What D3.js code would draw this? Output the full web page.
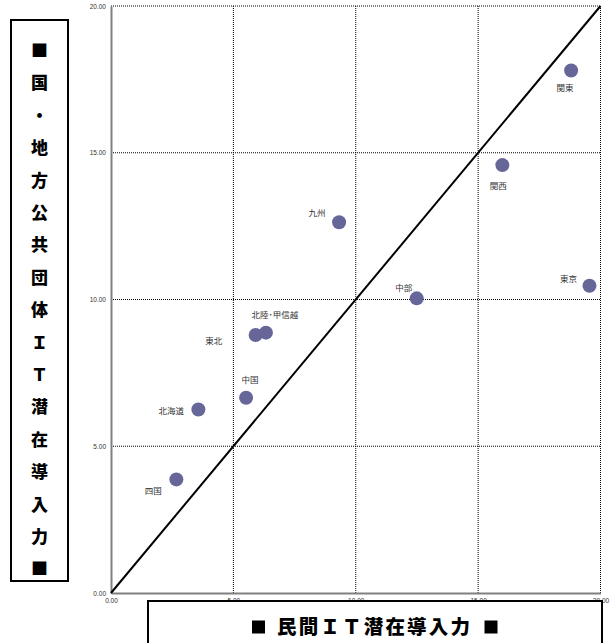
<!DOCTYPE html>
<html>
<head>
<meta charset="utf-8">
<script src="https://cdn.jsdelivr.net/npm/d3@7"></script>
<style>
  html, body { margin: 0; padding: 0; background: #ffffff; }
  svg { display: block; font-family: "Noto Sans CJK JP", "Noto Sans", sans-serif; }
</style>
</head>
<body>
<div id="chart"></div>
<script>
// regions and their two scores (x: private sector, y: government)
const regions = ['関東', '関西', '東京', '九州', '中部', '東北', '北陸･甲信越', '中国', '北海道', '四国'];
const privateScore = [18.80, 15.99, 19.55, 9.32, 12.49, 5.91, 6.33, 5.52, 3.57, 2.67];
const publicScore = [17.80, 14.58, 10.47, 12.63, 10.04, 8.79, 8.87, 6.65, 6.25, 3.87];
const tickValues = [0, 5, 10, 15, 20];
const xTitle = '民間ＩＴ潜在導入力';
const yTitle = ['■', '国', '・', '地', '方', '公', '共', '団', '体', 'Ｉ', 'Ｔ', '潜', '在', '導', '入', '力', '■'];

// label placement relative to each marker (layout, not data)
const labelOffset = {
    '関東': [-6, 17], '関西': [-4, 21], '東京': [-21, -7], '九州': [-22, -9],
    '中部': [-13, -10], '東北': [-42, 6], '北陸･甲信越': [9, -18], '中国': [4, -18],
    '北海道': [-27, 1], '四国': [-23, 12]
};

const width = 615, height = 643;
const svg = d3.select('#chart').append('svg')
    .attr('width', width)
    .attr('height', height);

const x = d3.scaleLinear().domain([0, 20]).range([111, 600.5]);
const y = d3.scaleLinear().domain([0, 20]).range([593, 6]);

// grid
svg.append('g').selectAll('line.vg')
    .data(tickValues.slice(1))
    .enter().append('line')
    .attr('x1', d => x(d)).attr('x2', d => x(d))
    .attr('y1', y(0)).attr('y2', y(20))
    .attr('stroke', '#000').attr('stroke-width', 1)
    .attr('stroke-dasharray', '1,1');
svg.append('g').selectAll('line.hg')
    .data(tickValues.slice(1))
    .enter().append('line')
    .attr('x1', x(0)).attr('x2', x(20))
    .attr('y1', d => y(d)).attr('y2', d => y(d))
    .attr('stroke', '#000').attr('stroke-width', 1)
    .attr('stroke-dasharray', '1,1');

// axes
const yAxis = svg.append('g')
    .attr('transform', `translate(${x(0)},0)`)
    .call(d3.axisLeft(y).tickValues(tickValues).tickFormat(d3.format('.2f')).tickSize(0).tickPadding(5));
const xAxis = svg.append('g')
    .attr('transform', `translate(0,${y(0)})`)
    .call(d3.axisBottom(x).tickValues(tickValues).tickFormat(d3.format('.2f')).tickSize(0).tickPadding(5));
[xAxis, yAxis].forEach(a => {
    a.select('.domain').attr('stroke', '#808080').attr('stroke-width', 2);
    a.selectAll('text').attr('fill', '#333').style('font-size', '6.5px')
        .style('font-family', '"Liberation Sans", Arial, sans-serif');
});

// diagonal y = x
svg.append('line')
    .attr('x1', x(0)).attr('y1', y(0))
    .attr('x2', x(20)).attr('y2', y(20))
    .attr('stroke', '#000').attr('stroke-width', 2);

// points
const pts = regions.map((r, i) => ({ name: r, px: privateScore[i], py: publicScore[i] }));
svg.append('g').selectAll('circle')
    .data(pts)
    .enter().append('circle')
    .attr('cx', d => x(d.px))
    .attr('cy', d => y(d.py))
    .attr('r', 7)
    .attr('fill', '#666699');

svg.append('g').selectAll('text')
    .data(pts)
    .enter().append('text')
    .attr('x', d => x(d.px) + labelOffset[d.name][0])
    .attr('y', d => y(d.py) + labelOffset[d.name][1])
    .attr('text-anchor', 'middle')
    .attr('dy', '0.35em')
    .attr('fill', '#333')
    .style('font-size', '8.5px')
    .text(d => d.name);

// x title box
svg.append('rect')
    .attr('x', 148).attr('y', 601)
    .attr('width', 454).attr('height', 60)
    .attr('fill', '#fff').attr('stroke', '#000').attr('stroke-width', 2);
const xt = svg.append('g').style('font-weight', '900').attr('fill', '#000');
xt.append('text')
    .attr('x', 373.5).attr('y', 627)
    .attr('dy', '0.35em')
    .attr('text-anchor', 'middle')
    .attr('textLength', 193)
    .attr('lengthAdjust', 'spacing')
    .style('font-size', '19.5px')
    .text(xTitle);
[258.5, 491].forEach(cx => {
    xt.append('rect')
        .attr('x', cx - 6.5).attr('y', 620.5)
        .attr('width', 13).attr('height', 13);
});

// y title box
svg.append('rect')
    .attr('x', 11).attr('y', 20)
    .attr('width', 57).attr('height', 561)
    .attr('fill', '#fff').attr('stroke', '#000').attr('stroke-width', 2);
svg.append('g').selectAll('text')
    .data(yTitle)
    .enter().append('text')
    .attr('x', 39.5)
    .attr('y', (d, i) => 51 + i * 32.4)
    .attr('dy', '0.35em')
    .attr('text-anchor', 'middle')
    .style('font-size', '17px')
    .style('font-weight', '900')
    .attr('fill', '#000')
    .text(d => d);
</script>
</body>
</html>
